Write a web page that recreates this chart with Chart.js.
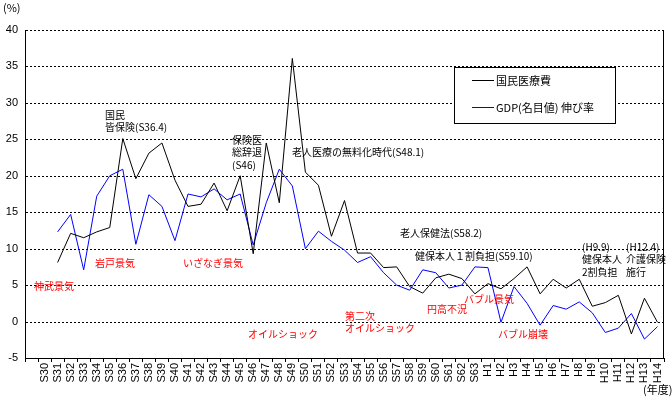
<!DOCTYPE html>
<html>
<head>
<meta charset="utf-8">
<script src="https://cdn.jsdelivr.net/npm/chart.js@4"></script>
<style>
    html, body { margin: 0; padding: 0; background: #fff; }
    #wrap { width: 672px; height: 399px; position: relative; }
</style>
</head>
<body>
<div id="wrap"><canvas id="chart"></canvas></div>
<script>
// categories (first slot is an empty one, as in the original sheet)
const years = ["", "S30", "S31", "S32", "S33", "S34", "S35", "S36", "S37", "S38", "S39", "S40",
    "S41", "S42", "S43", "S44", "S45", "S46", "S47", "S48", "S49", "S50", "S51", "S52",
    "S53", "S54", "S55", "S56", "S57", "S58", "S59", "S60", "S61", "S62", "S63",
    "H1", "H2", "H3", "H4", "H5", "H6", "H7", "H8", "H9", "H10", "H11", "H12", "H13", "H14"];

// 国民医療費 growth (%)
const medicalCost = [null, null, 8.1, 12.1, 11.5, 12.3, 12.9, 25.1, 19.6, 23.1, 24.5, 19.4,
    15.8, 16.1, 19.0, 15.2, 20.0, 9.3, 24.5, 16.3, 36.1, 20.5, 18.7, 11.7,
    16.6, 9.4, 9.4, 7.4, 7.5, 4.8, 3.9, 6.0, 6.5, 5.9, 3.8,
    5.2, 4.5, 5.9, 7.5, 3.8, 5.8, 4.6, 5.8, 2.1, 2.6, 3.6, -1.7, 3.2, -0.1];

// GDP (名目値) growth (%)
const gdpGrowth = [null, null, 12.3, 14.7, 7.1, 17.2, 20.0, 20.9, 10.6, 17.4, 15.8, 11.1,
    17.5, 17.1, 18.2, 16.7, 17.5, 10.5, 16.3, 20.9, 18.6, 10.0, 12.4, 11.0,
    9.8, 8.1, 8.9, 6.7, 5.0, 4.3, 7.1, 6.7, 4.6, 5.0, 7.5,
    7.4, -0.1, 4.8, 2.5, -0.5, 2.2, 1.7, 2.7, 1.2, -1.5, -0.9, 1.1, -2.4, -0.7];

const yTicks = [40, 35, 30, 25, 20, 15, 10, 5, 0, -5];
const seriesColors = ["#000000", "#0000ff"];

// notes drawn on the plot (black = policy, red = business cycle)
const policyNotes = [
    { lines: ["国民", "皆保険(S36.4)"], x: 105, y: 115 },
    { lines: ["保険医", "総辞退", "(S46)"], x: 232, y: 140 },
    { lines: ["老人医療の無料化時代(S48.1)"], x: 292, y: 152 },
    { lines: ["老人保健法(S58.2)"], x: 400, y: 233 },
    { lines: ["健保本人１割負担(S59.10)"], x: 415, y: 256 },
    { lines: ["(H9.9)", "健保本人", "2割負担"], x: 582, y: 247 },
    { lines: ["(H12.4)", "介護保険", "施行"], x: 626, y: 247 }
];
const cycleNotes = [
    { lines: ["神武景気"], x: 34, y: 286 },
    { lines: ["岩戸景気"], x: 95, y: 263 },
    { lines: ["いざなぎ景気"], x: 183, y: 263 },
    { lines: ["オイルショック"], x: 248, y: 334 },
    { lines: ["第二次", "オイルショック"], x: 345, y: 316 },
    { lines: ["円高不況"], x: 427, y: 309 },
    { lines: ["バブル景気"], x: 464, y: 299 },
    { lines: ["バブル崩壊"], x: 498, y: 334 }
];

const JP = "'Noto Sans CJK JP', sans-serif";

// dotted horizontal grid + right frame, drawn under the lines
const gridPlugin = {
    id: "dottedGrid",
    beforeDatasetsDraw(chart) {
        const ctx = chart.ctx;
        const area = chart.chartArea;
        const yScale = chart.scales.y;
        ctx.save();
        ctx.strokeStyle = "#000";
        ctx.lineWidth = 1;
        ctx.setLineDash([2, 2]);
        yTicks.forEach(v => {
            if (v === -5) return;
            const y = Math.round(yScale.getPixelForValue(v)) + 0.5;
            ctx.beginPath();
            ctx.moveTo(area.left + 1, y);
            ctx.lineTo(area.right, y);
            ctx.stroke();
        });
        ctx.setLineDash([]);
        const xr = Math.round(area.right) - 0.5;
        ctx.beginPath();
        ctx.moveTo(xr, area.top);
        ctx.lineTo(xr, area.bottom);
        ctx.stroke();
        ctx.restore();
    }
};

const notesPlugin = {
    id: "notes",
    afterDatasetsDraw(chart) {
        const ctx = chart.ctx;
        ctx.save();
        ctx.font = "10px " + JP;
        ctx.textBaseline = "middle";
        ctx.textAlign = "left";
        const drawNotes = (notes, color) => {
            ctx.fillStyle = color;
            notes.forEach(n => {
                n.lines.forEach((t, k) => ctx.fillText(t, n.x, n.y + k * 12.5));
            });
        };
        drawNotes(policyNotes, "#000");
        drawNotes(cycleNotes, "#ff0000");

        // legend box
        ctx.fillStyle = "#fff";
        ctx.fillRect(454, 67, 162, 57);
        ctx.strokeStyle = "#000";
        ctx.lineWidth = 1;
        ctx.strokeRect(454.5, 67.5, 161, 56);
        ctx.font = "11px " + JP;
        chart.data.datasets.forEach((ds, i) => {
            const y = 80 + i * 27;
            ctx.fillStyle = seriesColors[i];
            ctx.fillRect(472, y, 22, 1);
            ctx.fillStyle = "#000";
            ctx.fillText(ds.label, 496, y + 0.5);
        });

        ctx.fillText("(%)", 3, 8);
        ctx.fillText("(年度)", 643, 390);
        ctx.restore();
    }
};

function renderChart() {
    const ctx = document.getElementById("chart").getContext("2d");
    new Chart(ctx, {
        type: "line",
        data: {
            labels: years,
            datasets: [{
                label: "国民医療費",
                data: medicalCost,
                borderColor: seriesColors[0],
                borderWidth: 1,
                pointRadius: 0,
                tension: 0
            }, {
                label: "GDP(名目値) 伸び率",
                data: gdpGrowth,
                borderColor: seriesColors[1],
                borderWidth: 1,
                pointRadius: 0,
                tension: 0
            }]
        },
        options: {
            responsive: true,
            maintainAspectRatio: false,
            animation: false,
            layout: { padding: { top: 30, right: 8, left: 0, bottom: 0 } },
            plugins: {
                legend: { display: false },
                tooltip: { enabled: false }
            },
            scales: {
                x: {
                    type: "category",
                    offset: true,
                    grid: {
                        offset: true,
                        drawOnChartArea: false,
                        drawTicks: true,
                        tickLength: 4,
                        color: "#000"
                    },
                    border: { display: true, color: "#000", width: 1 },
                    ticks: {
                        autoSkip: false,
                        minRotation: 90,
                        maxRotation: 90,
                        padding: 1,
                        color: "#000",
                        font: { family: "'Liberation Sans', Arial, sans-serif", size: 11 }
                    },
                    afterFit(scale) { scale.height = 41; }
                },
                y: {
                    min: -5,
                    max: 40,
                    afterBuildTicks(scale) {
                        scale.ticks = yTicks.map(v => ({ value: v }));
                    },
                    grid: { display: false, drawTicks: false },
                    border: { display: true, color: "#000", width: 1 },
                    ticks: {
                        padding: 7,
                        color: "#000",
                        font: { family: "'Liberation Sans', Arial, sans-serif", size: 11 }
                    },
                    afterFit(scale) { scale.width = 25; }
                }
            }
        },
        plugins: [gridPlugin, notesPlugin]
    });
}

document.addEventListener("DOMContentLoaded", function () {
    renderChart();
});
</script>
</body>
</html>
